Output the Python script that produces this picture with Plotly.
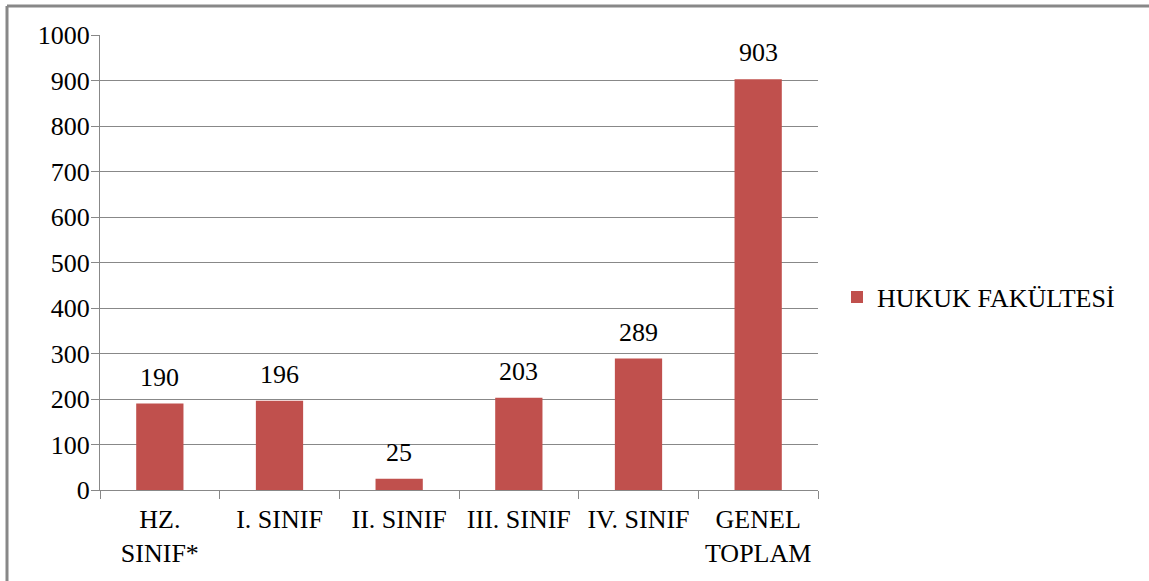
import plotly.graph_objects as go

categories = ["HZ.<br>SINIF*", "I. SINIF", "II. SINIF", "III. SINIF", "IV. SINIF", "GENEL<br>TOPLAM"]
values = [190, 196, 25, 203, 289, 903]
series_name = "HUKUK FAKÜLTESİ"
y_ticks = list(range(0, 1001, 100))

FONT = "Liberation Serif, Times New Roman, serif"
FS = 26
BAR = "#C0504D"
GRID = "#888888"

fig = go.Figure()
fig.add_trace(go.Bar(
    x=categories, y=values, name=series_name,
    marker=dict(color=BAR, line=dict(width=0)),
    cliponaxis=False,
))

for c, v in zip(categories, values):
    fig.add_annotation(x=c, y=v, text=str(v), showarrow=False, yanchor="bottom",
                       yshift=10, font=dict(family=FONT, size=FS, color="#000000"))

L, R, T, B = 100, 331, 35, 91
W, H = 1149, 581
pw, ph = W - L - R, H - T - B

fig.update_layout(
    width=W, height=H,
    margin=dict(l=L, r=R, t=T, b=B, pad=0),
    paper_bgcolor="white", plot_bgcolor="white",
    font=dict(family=FONT, size=FS, color="#000000"),
    bargap=0.605,
    showlegend=True,
    legend=dict(x=(837 - L) / pw, y=(H - B - 297) / ph, xanchor="left", yanchor="middle",
                font=dict(family=FONT, size=FS, color="#000000"),
                bgcolor="rgba(0,0,0,0)"),
    xaxis=dict(showline=True, linecolor=GRID, linewidth=1, ticks="outside", ticklen=8,
               tickcolor=GRID, tickson="boundaries", showgrid=False, ticklabelstandoff=6,
               tickfont=dict(family=FONT, size=FS, color="#000000")),
    yaxis=dict(range=[0, 1000], tickvals=y_ticks, showline=True, linecolor=GRID, linewidth=1,
               ticks="outside", ticklen=8, tickcolor=GRID, showgrid=True, gridcolor=GRID,
               gridwidth=1, zeroline=False, ticklabelstandoff=-4,
               tickfont=dict(family=FONT, size=FS, color="#000000")),
)

# outer chart border (top and left visible)
x0 = (7 - L) / pw
x1 = (W + 5 - L) / pw
ytop = 1 + (T - 6) / ph
ybot = -(B + 5) / ph
fig.add_shape(type="line", xref="paper", yref="paper", x0=x0, x1=x1, y0=ytop, y1=ytop,
              line=dict(color="#888888", width=3))
fig.add_shape(type="line", xref="paper", yref="paper", x0=x0, x1=x0, y0=ybot, y1=ytop,
              line=dict(color="#888888", width=3))

fig.write_html("out.html", config={"displayModeBar": False},
               post_script="document.body.style.margin='0px';")
